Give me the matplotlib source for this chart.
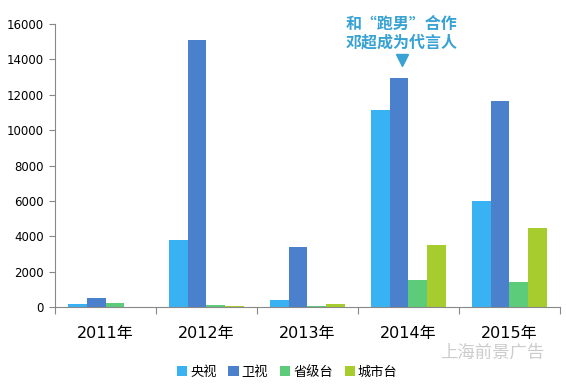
import numpy as np
import matplotlib.pyplot as plt

plt.rcParams['font.family'] = ['DejaVu Sans', 'Noto Sans CJK SC']

# data
years = ['2011年', '2012年', '2013年', '2014年', '2015年']
series_names = ['央视', '卫视', '省级台', '城市台']
cctv = [170, 3780, 400, 11150, 5990]
satellite = [530, 15100, 3370, 12950, 11650]
provincial = [220, 120, 30, 1510, 1410]
city = [0, 50, 170, 3480, 4450]
colors = ['#39b2f3', '#4a80cc', '#5ccb7a', '#a6cc2e']

fig = plt.figure(figsize=(5.66, 3.87), dpi=100)
ax = fig.add_axes([0.0972, 0.2067, 0.892, 0.7313])

x = np.arange(len(years))
w = 0.185
for i, (vals, name) in enumerate(zip([cctv, satellite, provincial, city], series_names)):
    ax.bar(x + (i - 1.5) * w, vals, w, color=colors[i], label=name, zorder=2)

ax.set_xlim(-0.5, len(years) - 0.5)
ax.set_ylim(0, 16000)
ax.set_yticks(range(0, 16001, 2000))
ax.tick_params(axis='y', labelsize=8.5, length=4, color='#888888', pad=4)

ax.set_xticks(np.arange(-0.5, len(years), 1))
ax.set_xticklabels([])
ax.tick_params(axis='x', length=5, color='#888888')
ax.set_xticks(x, minor=True)
ax.set_xticklabels(years, minor=True, fontsize=11.5)
ax.tick_params(axis='x', which='minor', length=0, pad=14)

for s in ['top', 'right']:
    ax.spines[s].set_visible(False)
for s in ['left', 'bottom']:
    ax.spines[s].set_color('#888888')

# annotation over 2014
ax.text(2.93, 14500, '和“跑男”合作\n邓超成为代言人',
        ha='center', va='bottom', fontsize=11.5, fontweight='bold', color='#38a2d2',
        family=['Noto Sans CJK SC'], linespacing=1.2, clip_on=False)
ax.plot([2.94], [13950], marker='v', markersize=9, color='#38a2d2', clip_on=False)

ax.legend(loc='upper center', bbox_to_anchor=(0.46, -0.165), ncol=4, frameon=False,
          handlelength=0.8, handleheight=0.8, handletextpad=0.2,
          columnspacing=0.9, prop={'family': ['Noto Sans CJK SC'], 'size': 9.5})

fig.text(0.87, 0.09, '上海前景广告', fontsize=12.5, color='#cccccc',
         family=['Noto Sans CJK SC'], ha='center', va='center')

fig.savefig('out.png', dpi=100)
